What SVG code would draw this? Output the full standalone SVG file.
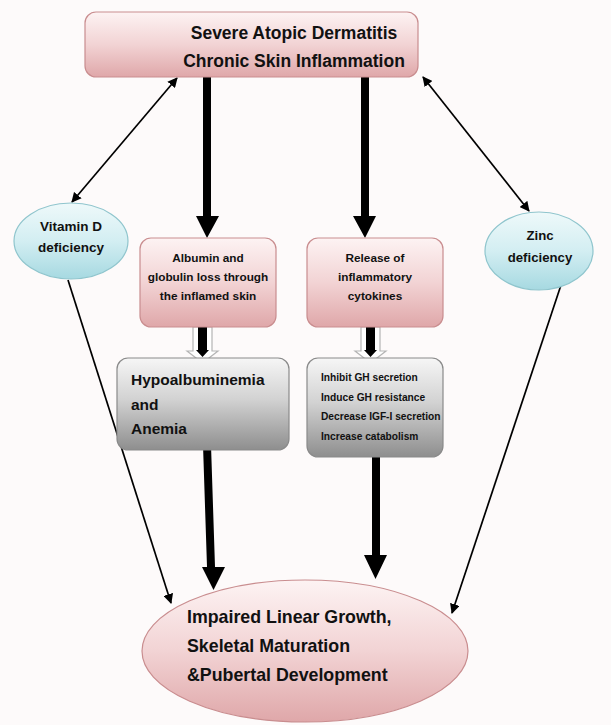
<svg xmlns="http://www.w3.org/2000/svg" width="611" height="725" viewBox="0 0 611 725">
<defs>
<linearGradient id="pink" x1="0" y1="0" x2="0" y2="1">
<stop offset="0" stop-color="#fdf3f3"/><stop offset="0.5" stop-color="#f2d3d4"/><stop offset="1" stop-color="#dfa7a9"/>
</linearGradient>
<linearGradient id="gray" x1="0" y1="0" x2="0" y2="1">
<stop offset="0" stop-color="#f6f6f6"/><stop offset="0.45" stop-color="#d2d2d2"/><stop offset="1" stop-color="#8e8e8e"/>
</linearGradient>
<linearGradient id="blue" x1="0" y1="0" x2="0" y2="1">
<stop offset="0" stop-color="#eef9fa"/><stop offset="0.5" stop-color="#d3eef2"/><stop offset="1" stop-color="#a6d9e1"/>
</linearGradient>
<marker id="ah" viewBox="0 0 10 10" refX="9" refY="5" markerWidth="10" markerHeight="10" markerUnits="userSpaceOnUse" orient="auto-start-reverse">
<path d="M0,0 L10,5 L0,10 Z" fill="#000"/>
</marker>
</defs>
<style>
text{font-family:"Liberation Sans",Arial,sans-serif;font-weight:bold;fill:#111}
.pk{fill:url(#pink);stroke:#c98d8f;stroke-width:1.2}
.gy{fill:url(#gray);stroke:#8a8a8a;stroke-width:1.2}
.bl{fill:url(#blue);stroke:#8fc5cd;stroke-width:1.2}
.thin{stroke:#000;stroke-width:1.7;fill:none}
.thick{fill:#000}
.hollow{fill:#fff;stroke:#b5b5b5;stroke-width:1.2}
.c{text-anchor:middle}
</style>
<rect width="611" height="725" fill="#fdfafa"/>

<g id="connectors">
<line class="thin" x1="177" y1="78" x2="72" y2="202" marker-start="url(#ah)" marker-end="url(#ah)"/>
<line class="thin" x1="423" y1="77" x2="529" y2="211" marker-start="url(#ah)" marker-end="url(#ah)"/>
<line class="thin" x1="68" y1="280" x2="171" y2="603" marker-end="url(#ah)"/>
<line class="thin" x1="563" y1="279" x2="452" y2="613" marker-end="url(#ah)"/>
<path class="thick" d="M203,77 H211 V216 H219 L207,238 L196,216 H203 Z"/>
<path class="thick" d="M361,77 H369 V216 H376 L365,238 L353,216 H361 Z"/>
<path class="hollow" d="M193,327 H212 V351 H218 L202.5,363 L187,351 H193 Z"/>
<path class="thick" d="M198,327 H207 V350 H209 L202.5,357 L196,350 H198 Z"/>
<path class="hollow" d="M361,327 H380 V351 H386 L370.5,363 L355,351 H361 Z"/>
<path class="thick" d="M366,327 H375 V350 H377 L370.5,357 L364,350 H366 Z"/>
<path class="thick" d="M203,445 L211,445 L215,567 L225,567 L213.5,590 L202,567 L207,567 Z"/>
<path class="thick" d="M372,457 H380 V555 H387 L375.5,579 L364,555 H372 Z"/>
</g>

<g id="top">
<rect class="pk" x="85" y="12" width="333" height="65" rx="11"/>
<text class="c" x="294" y="39" font-size="17.5">Severe Atopic Dermatitis</text>
<text class="c" x="294" y="67" font-size="17.5">Chronic Skin Inflammation</text>
</g>

<g id="vitd">
<ellipse class="bl" cx="71" cy="241" rx="57" ry="38"/>
<text class="c" x="71" y="231" font-size="13.5">Vitamin D</text>
<text class="c" x="71" y="252" font-size="13.5">deficiency</text>
</g>

<g id="zinc">
<ellipse class="bl" cx="539" cy="251" rx="54" ry="39"/>
<text class="c" x="540" y="240" font-size="13.2">Zinc</text>
<text class="c" x="540" y="262" font-size="13.2">deficiency</text>
</g>

<g id="albumin">
<rect class="pk" x="140" y="238" width="136" height="89" rx="11"/>
<text class="c" x="208" y="262" font-size="11.8">Albumin and</text>
<text class="c" x="208" y="281" font-size="11.8">globulin loss through</text>
<text class="c" x="208" y="300" font-size="11.8">the inflamed skin</text>
</g>

<g id="cytokines">
<rect class="pk" x="307" y="238" width="136" height="89" rx="11"/>
<text class="c" x="375" y="262" font-size="11.8">Release of</text>
<text class="c" x="375" y="281" font-size="11.8">inflammatory</text>
<text class="c" x="375" y="300" font-size="11.8">cytokines</text>
</g>

<g id="hypo">
<rect class="gy" x="117" y="358" width="172" height="92" rx="11"/>
<text x="131" y="385" font-size="15.5">Hypoalbuminemia</text>
<text x="131" y="410" font-size="15.5">and</text>
<text x="131" y="434" font-size="15.5">Anemia</text>
</g>

<g id="gh">
<rect class="gy" x="307" y="358" width="136" height="99" rx="11"/>
<text x="321" y="381" font-size="10.2">Inhibit GH secretion</text>
<text x="321" y="401" font-size="10.2">Induce GH resistance</text>
<text x="321" y="420" font-size="10.2">Decrease IGF-I secretion</text>
<text x="321" y="440" font-size="10.2">Increase catabolism</text>
</g>

<g id="growth">
<ellipse class="pk" cx="305" cy="651" rx="163" ry="71"/>
<text x="187" y="623" font-size="17.8">Impaired Linear Growth,</text>
<text x="187" y="652" font-size="17.8">Skeletal Maturation</text>
<text x="187" y="681" font-size="17.8">&amp;Pubertal Development</text>
</g>
</svg>
